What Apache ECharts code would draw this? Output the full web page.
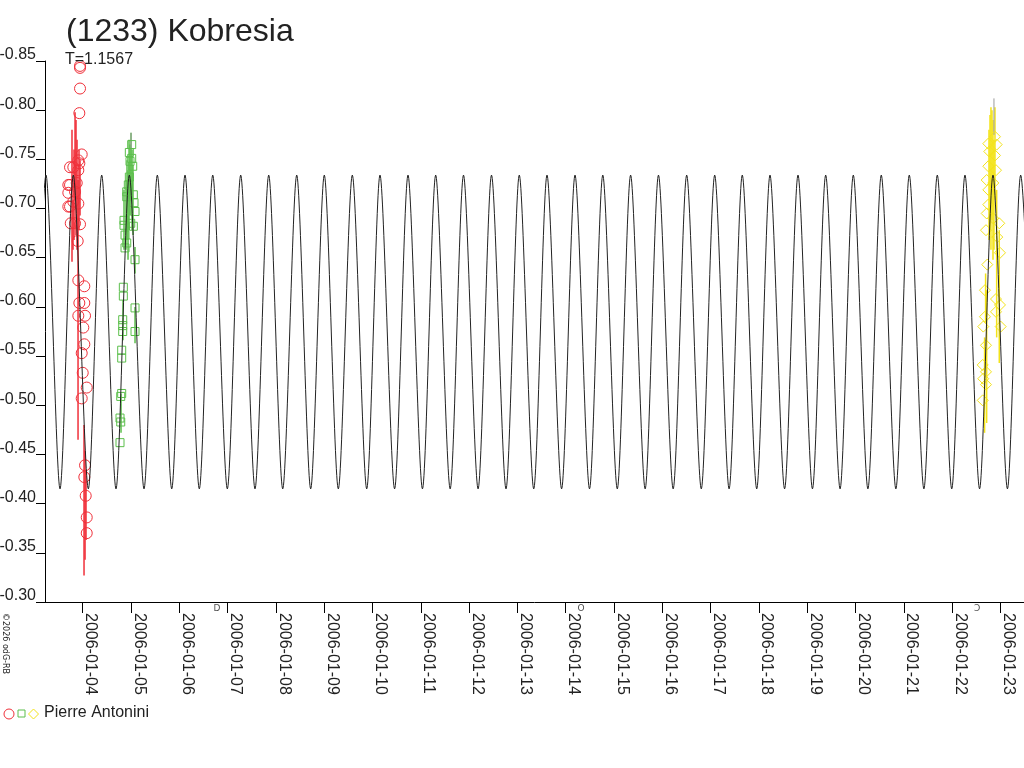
<!DOCTYPE html>
<html>
<head>
    <meta charset="UTF-8">
    <title>(1233) Kobresia</title>
    <script src="https://cdn.jsdelivr.net/npm/echarts@6.0.0/dist/echarts.min.js"></script>
    <style>
        body, html {
            margin: 0;
            padding: 0;
            height: 100%;
            background: #fff;
        }

        #chart {
            width: 1024px;
            height: 768px;
        }
    </style>
</head>
<body>
<div id="chart"></div>
<script>
    // x values are days since 2006-01-04 00:00 UT, y values are relative magnitudes
    var dayTicks = [0, 1, 2, 3, 4, 5, 6, 7, 8, 9, 10, 11, 12, 13, 14, 15, 16, 17, 18, 19];
    var dayLabels = ['2006-01-04', '2006-01-05', '2006-01-06', '2006-01-07', '2006-01-08',
        '2006-01-09', '2006-01-10', '2006-01-11', '2006-01-12', '2006-01-13', '2006-01-14',
        '2006-01-15', '2006-01-16', '2006-01-17', '2006-01-18', '2006-01-19', '2006-01-20',
        '2006-01-21', '2006-01-22', '2006-01-23'];

    // model curve: times of maxima / minima
    var modelPeakDays = [-0.760, -0.195, 0.393, 0.965, 1.545, 2.118, 2.692, 3.271, 3.851, 4.431,
        5.002, 5.582, 6.155, 6.735, 7.308, 7.884, 8.464, 9.039, 9.613, 10.193, 10.768, 11.344,
        11.921, 12.505, 13.085, 13.656, 14.230, 14.810, 15.383, 15.955, 16.534, 17.114, 17.694,
        18.267, 18.847, 19.420];
    var modelTroughDays = [-1.036, -0.470, 0.116, 0.689, 1.269, 1.843, 2.414, 2.994, 3.567, 4.141,
        4.720, 5.292, 5.880, 6.457, 7.034, 7.608, 8.186, 8.764, 9.338, 9.915, 10.493, 11.068,
        11.645, 12.225, 12.807, 13.383, 13.955, 14.532, 15.109, 15.681, 16.257, 16.836, 17.416,
        17.993, 18.569, 19.146, 19.721];
    var modelPeakMag = -0.734;
    var modelTroughMag = -0.415;

    // session 1 (red circles)
    var redPoints = [[-0.056, -0.843], [-0.056, -0.845], [-0.056, -0.822], [-0.070, -0.797],
        [-0.021, -0.755], [-0.091, -0.749], [-0.070, -0.746], [-0.263, -0.742], [-0.195, -0.742],
        [-0.091, -0.739], [-0.124, -0.726], [-0.263, -0.724], [-0.298, -0.724], [-0.159, -0.717],
        [-0.298, -0.716], [-0.195, -0.707], [-0.091, -0.705], [-0.263, -0.702], [-0.298, -0.702],
        [-0.248, -0.685], [-0.159, -0.685], [-0.056, -0.684], [-0.104, -0.667], [-0.091, -0.627],
        [0.033, -0.621], [-0.070, -0.604], [0.033, -0.604], [-0.091, -0.591], [0.048, -0.591],
        [0.012, -0.579], [0.033, -0.562], [-0.021, -0.553], [0.000, -0.533], [0.083, -0.518],
        [-0.021, -0.507], [0.048, -0.439], [0.033, -0.427], [0.062, -0.408], [0.083, -0.386],
        [0.083, -0.370]];
    var redBars = [[-0.222, -0.780, -0.646], [-0.201, -0.709, -0.658], [-0.180, -0.760, -0.668],
        [-0.159, -0.798, -0.709], [-0.139, -0.790, -0.673], [-0.118, -0.770, -0.658],
        [-0.097, -0.729, -0.465], [-0.077, -0.760, -0.678], [-0.056, -0.749, -0.693],
        [0.027, -0.480, -0.327], [0.048, -0.454, -0.343], [0.068, -0.434, -0.363]];

    // session 2 (green squares)
    var greenPoints = [[1.014, -0.765], [0.965, -0.757], [1.014, -0.751], [0.979, -0.748],
        [1.035, -0.743], [0.965, -0.732], [0.944, -0.724], [0.911, -0.717], [1.048, -0.714],
        [0.911, -0.712], [1.062, -0.706], [1.083, -0.697], [0.855, -0.688], [0.855, -0.683],
        [1.048, -0.682], [0.994, -0.685], [0.876, -0.673], [0.911, -0.665], [0.876, -0.660],
        [1.083, -0.648], [0.841, -0.620], [0.841, -0.611], [1.083, -0.599], [0.828, -0.587],
        [0.828, -0.581], [0.828, -0.575], [1.083, -0.575], [0.807, -0.556], [0.807, -0.548],
        [0.807, -0.512], [0.787, -0.509], [0.772, -0.487], [0.787, -0.483], [0.772, -0.462]];
    var greenBars = [[0.896, -0.729, -0.658], [0.917, -0.749, -0.668], [0.938, -0.739, -0.648],
        [0.959, -0.770, -0.678], [0.979, -0.765, -0.693], [1.000, -0.777, -0.709],
        [1.021, -0.760, -0.678], [1.041, -0.744, -0.673], [1.083, -0.661, -0.634],
        [1.083, -0.600, -0.563], [0.834, -0.607, -0.566], [0.793, -0.512, -0.472],
        [0.855, -0.719, -0.658]];

    // session 3 (yellow diamonds)
    var yellowPoints = [[18.750, -0.766], [18.888, -0.773], [18.923, -0.765], [18.770, -0.758],
        [18.888, -0.754], [18.750, -0.743], [18.909, -0.739], [18.716, -0.729], [18.853, -0.726],
        [18.750, -0.719], [18.750, -0.704], [18.716, -0.695], [18.853, -0.690], [18.977, -0.685],
        [18.702, -0.678], [18.936, -0.671], [18.992, -0.655], [18.729, -0.643], [18.681, -0.617],
        [18.909, -0.608], [18.992, -0.602], [18.909, -0.595], [18.681, -0.590], [19.006, -0.580],
        [18.646, -0.580], [18.702, -0.561], [18.634, -0.541], [18.702, -0.534], [18.646, -0.527],
        [18.702, -0.521], [18.634, -0.505]];
    var yellowBars = [[18.764, -0.780, -0.668], [18.785, -0.795, -0.678], [18.805, -0.803, -0.658],
        [18.826, -0.800, -0.688], [18.847, -0.790, -0.648], [18.867, -0.770, -0.658],
        [18.888, -0.803, -0.709], [18.923, -0.719, -0.569], [18.977, -0.678, -0.543],
        [18.694, -0.634, -0.584], [18.673, -0.569, -0.472], [18.716, -0.617, -0.482]];

    var greyBars = [[1.000, -0.777, -0.760], [18.867, -0.812, -0.775]];

    // moon phases shown on the time axis
    var moonPhases = [[2.78, -0.30, 'D'], [10.32, -0.30, 'O'], [18.52, -0.30, 'Ↄ']];

    var FONT = 'Liberation Sans';
    var TEXT = '#222';
    var RED = '#f0303a', GREEN = '#5cbf4c', YELLOW = '#f3e31a';

    var curve = modelPeakDays.map(function (d) { return [d, modelPeakMag]; })
        .concat(modelTroughDays.map(function (d) { return [d, modelTroughMag]; }))
        .sort(function (a, b) { return a[0] - b[0]; });

    function barSeries(data, color, width) {
        return {
            type: 'custom',
            data: data,
            encode: {x: 0, y: [1, 2]},
            silent: true,
            renderItem: function (params, api) {
                var p1 = api.coord([api.value(0), api.value(1)]);
                var p2 = api.coord([api.value(0), api.value(2)]);
                return {
                    type: 'line',
                    shape: {x1: p1[0], y1: p1[1], x2: p2[0], y2: p2[1]},
                    style: {stroke: color, lineWidth: width}
                };
            }
        };
    }

    // hollow markers with a 1px outline
    function pointSeries(data, symbol, size, color) {
        return {
            type: 'scatter',
            data: data,
            symbol: symbol,
            symbolSize: size,
            silent: true,
            itemStyle: {color: 'rgba(0,0,0,0)', borderColor: color, borderWidth: 1, opacity: 1}
        };
    }

    var chart = echarts.init(document.getElementById('chart'), null, {renderer: 'canvas'});

    chart.setOption({
        animation: false,
        backgroundColor: '#fff',
        title: [
            {
                text: '(1233) Kobresia', left: 66, top: 16, padding: 0,
                textStyle: {fontFamily: FONT, fontSize: 32, fontWeight: 'normal', color: TEXT}
            },
            {
                text: 'T=1.1567', left: 65, top: 52, padding: 0,
                textStyle: {fontFamily: FONT, fontSize: 16, fontWeight: 'normal', color: TEXT}
            }
        ],
        grid: {left: 45, right: 0, top: 61, bottom: 166, containLabel: false, outerBoundsMode: 'none'},
        xAxis: {
            type: 'value',
            min: -0.781,
            max: 19.489,
            splitLine: {show: false},
            axisLine: {show: true, onZero: false, lineStyle: {color: '#000', width: 1}},
            axisTick: {show: true, customValues: dayTicks, length: 11, lineStyle: {color: '#000'}},
            axisLabel: {
                customValues: dayTicks,
                rotate: -90,
                margin: 11,
                align: 'left',
                verticalAlign: 'bottom',
                fontFamily: FONT,
                fontSize: 16,
                color: TEXT,
                formatter: function (v) { return dayLabels[Math.round(v)]; }
            }
        },
        yAxis: {
            type: 'value',
            inverse: true,
            min: -0.85,
            max: -0.30,
            interval: 0.05,
            splitLine: {show: false},
            axisLine: {show: true, onZero: false, lineStyle: {color: '#000', width: 1}},
            axisTick: {show: true, length: 9, lineStyle: {color: '#000'}},
            axisLabel: {
                margin: 9,
                verticalAlign: 'bottom',
                lineHeight: 12,
                showMinLabel: true,
                showMaxLabel: true,
                fontFamily: FONT,
                fontSize: 16,
                color: TEXT,
                formatter: function (v) { return v.toFixed(2); }
            }
        },
        series: [
            barSeries(redBars, RED, 1.5),
            barSeries(greenBars, GREEN, 1.5),
            barSeries(yellowBars, YELLOW, 1.5),
            barSeries(greyBars, '#9a9a9a', 1),
            {
                type: 'line',
                data: curve,
                smooth: 0.28,
                showSymbol: false,
                silent: true,
                lineStyle: {color: '#222', width: 1}
            },
            pointSeries(redPoints, 'circle', 11, RED),
            pointSeries(greenPoints, 'rect', 8, GREEN),
            pointSeries(yellowPoints, 'diamond', 11, YELLOW),
            {
                type: 'scatter',
                data: moonPhases,
                symbolSize: 0,
                clip: false,
                silent: true,
                label: {
                    show: true,
                    position: 'inside',
                    offset: [0, 7],
                    fontFamily: 'DejaVu Sans',
                    fontSize: 9,
                    color: TEXT,
                    formatter: function (p) { return p.data[2]; }
                }
            }
        ],
        graphic: [
            {
                type: 'text', x: 1, y: 613, rotation: -Math.PI / 2, silent: true,
                style: {text: '©2026 odG-RB', fontFamily: 'DejaVu Sans', fontSize: 8,
                    fill: TEXT, textAlign: 'left', textVerticalAlign: 'bottom'}
            },
            {
                type: 'circle', shape: {cx: 9, cy: 714, r: 5}, silent: true,
                style: {fill: 'none', stroke: RED, lineWidth: 1}
            },
            {
                type: 'rect', shape: {x: 18, y: 710, width: 7, height: 7}, silent: true,
                style: {fill: 'none', stroke: GREEN, lineWidth: 1}
            },
            {
                type: 'polygon', shape: {points: [[33.5, 709], [38.5, 714], [33.5, 719], [28.5, 714]]},
                silent: true,
                style: {fill: 'none', stroke: YELLOW, lineWidth: 1}
            },
            {
                type: 'text', x: 44, y: 713, silent: true,
                style: {text: 'Pierre Antonini', fontFamily: FONT, fontSize: 16,
                    fill: TEXT, textAlign: 'left', textVerticalAlign: 'middle'}
            }
        ]
    });
</script>
</body>
</html>
